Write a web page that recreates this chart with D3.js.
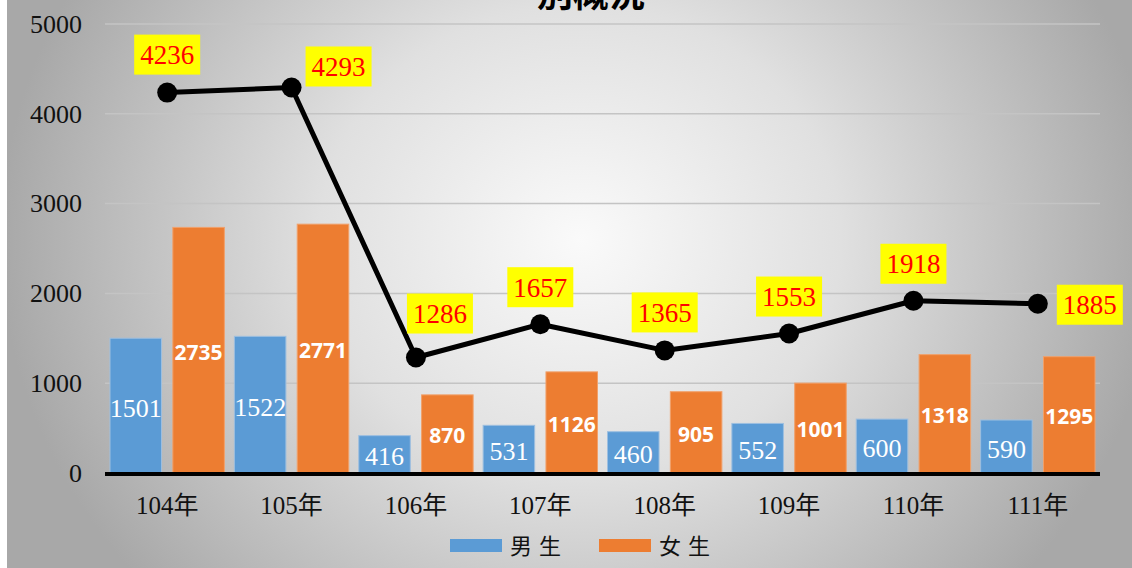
<!DOCTYPE html>
<html>
<head>
<meta charset="utf-8">
<script src="https://cdn.jsdelivr.net/npm/d3@7"></script>
<style>
  body { margin: 0; background: #fff; }
  svg { display: block; }
</style>
</head>
<body>
<svg id="chart" width="1132" height="568"></svg>
<script>
// chart data
var years   = ['104年', '105年', '106年', '107年', '108年', '109年', '110年', '111年'];
var boys    = [1501, 1522, 416, 531, 460, 552, 600, 590];
var girls   = [2735, 2771, 870, 1126, 905, 1001, 1318, 1295];
var totals  = [4236, 4293, 1286, 1657, 1365, 1553, 1918, 1885];
var yTicks  = [0, 1000, 2000, 3000, 4000, 5000];
var seriesNames = ['男生', '女生'];

// where each yellow total box sits relative to its point
var boxDx = [0, 47, 24, 0, 0, 0, 0, 52];
var boxDy = [-38, -21, -44, -37, -38, -37, -37, 1];

var blue = '#5b9bd5', orange = '#ed7d31';
var serif = '"Liberation Serif", "Noto Sans CJK TC", serif';

var svg = d3.select('#chart');
var W = 1132, H = 568;
// note: "top" is taken by window.top, so prefix these
var plotLeft = 105, plotRight = 1100, plotTop = 24, plotBottom = 473;

// background
var defs = svg.append('defs');
var grad = defs.append('radialGradient').attr('id', 'bg')
  .attr('gradientUnits', 'userSpaceOnUse')
  .attr('cx', 580).attr('cy', 240).attr('r', 580)
  .attr('gradientTransform', 'translate(580,240) scale(1,0.9) translate(-580,-240)');
grad.append('stop').attr('offset', 0).attr('stop-color', '#fafafa');
grad.append('stop').attr('offset', 0.45).attr('stop-color', '#e0e0e0');
grad.append('stop').attr('offset', 1).attr('stop-color', '#a8a8a8');
svg.append('rect').attr('x', 7).attr('y', 0).attr('width', W - 7).attr('height', H).attr('fill', 'url(#bg)');

// title (top is cut off in the original)
svg.append('text').attr('x', 591).attr('y', 7).attr('text-anchor', 'middle')
  .attr('font-family', '"Noto Sans CJK TC", sans-serif').attr('font-weight', 'bold')
  .attr('font-size', 36).attr('fill', '#000').text('別概況');

// scales
var x0 = d3.scaleBand().domain(years).range([plotLeft, plotRight]);
var x1 = d3.scaleBand().domain(seriesNames).range([5, x0.bandwidth() - 5]).paddingInner(0.18);
var y = d3.scaleLinear().domain([0, 5000]).range([plotBottom, plotTop]);

// gridlines
svg.append('g').selectAll('line').data(yTicks.filter(function (d) { return d > 0 }))
  .enter().append('line')
  .attr('x1', plotLeft).attr('x2', plotRight)
  .attr('y1', function (d) { return y(d) }).attr('y2', function (d) { return y(d) })
  .attr('stroke', '#c4c4c4').attr('stroke-width', 1.5);

// y axis labels
var yAxis = svg.append('g').attr('transform', 'translate(82,0)')
  .call(d3.axisLeft(y).tickValues(yTicks).tickFormat(d3.format('d')).tickSize(0).tickPadding(0));
yAxis.select('.domain').remove();
yAxis.selectAll('text').attr('font-family', serif).attr('font-size', 26).attr('fill', '#111')
  .attr('dy', '0.32em');

// bars
var groups = svg.append('g').selectAll('g').data(years).enter().append('g')
  .attr('transform', function (d) { return 'translate(' + x0(d) + ',0)' });

groups.append('rect')
  .attr('x', x1('男生')).attr('width', x1.bandwidth())
  .attr('y', function (d, i) { return y(boys[i]) })
  .attr('height', function (d, i) { return plotBottom - y(boys[i]) })
  .attr('fill', blue).attr('stroke', '#9dbfe0').attr('stroke-width', 1);

groups.append('rect')
  .attr('x', x1('女生')).attr('width', x1.bandwidth())
  .attr('y', function (d, i) { return y(girls[i]) })
  .attr('height', function (d, i) { return plotBottom - y(girls[i]) })
  .attr('fill', orange).attr('stroke', '#f1a06a').attr('stroke-width', 1);

groups.append('text')
  .attr('x', x1('男生') + x1.bandwidth() / 2)
  .attr('y', function (d, i) { return (y(boys[i]) + plotBottom) / 2 + 2 })
  .attr('text-anchor', 'middle').attr('dy', '0.35em')
  .attr('font-family', serif).attr('font-size', 26).attr('fill', '#fff')
  .text(function (d, i) { return boys[i] });

groups.append('text')
  .attr('x', x1('女生') + x1.bandwidth() / 2)
  .attr('y', function (d, i) { return (y(girls[i]) + plotBottom) / 2 + 2 })
  .attr('text-anchor', 'middle').attr('dy', '0.35em')
  .attr('font-family', '"Open Sans", sans-serif').attr('font-weight', 'bold')
  .attr('font-size', 21).attr('fill', '#fff')
  .text(function (d, i) { return girls[i] });

// x axis
svg.append('line').attr('x1', plotLeft).attr('x2', plotRight).attr('y1', plotBottom + 1).attr('y2', plotBottom + 1)
  .attr('stroke', '#000').attr('stroke-width', 4);

svg.append('g').selectAll('text').data(years).enter().append('text')
  .attr('x', function (d) { return x0(d) + x0.bandwidth() / 2 })
  .attr('y', 505).attr('dy', '0.35em').attr('text-anchor', 'middle')
  .attr('font-family', serif).attr('font-size', 25).attr('fill', '#111')
  .text(function (d) { return d });

// total line
var cx = function (i) { return x0(years[i]) + x0.bandwidth() / 2 };
var line = d3.line().x(function (d, i) { return cx(i) }).y(function (d) { return y(d) });
svg.append('path').datum(totals).attr('d', line)
  .attr('fill', 'none').attr('stroke', '#000').attr('stroke-width', 5).attr('stroke-linejoin', 'round');
svg.append('g').selectAll('circle').data(totals).enter().append('circle')
  .attr('cx', function (d, i) { return cx(i) }).attr('cy', function (d) { return y(d) })
  .attr('r', 10).attr('fill', '#000');

// total labels in yellow boxes
var boxes = svg.append('g').selectAll('g').data(totals).enter().append('g')
  .attr('transform', function (d, i) { return 'translate(' + (cx(i) + boxDx[i]) + ',' + (y(d) + boxDy[i]) + ')' });
boxes.append('rect').attr('x', -33).attr('y', -20).attr('width', 66).attr('height', 40).attr('fill', '#ffff00');
boxes.append('text').attr('text-anchor', 'middle').attr('dy', '0.35em')
  .attr('font-family', serif).attr('font-size', 27).attr('fill', '#ff0000')
  .text(function (d) { return d });

// legend
var legend = svg.append('g').selectAll('g').data(seriesNames).enter().append('g')
  .attr('transform', function (d, i) { return 'translate(' + (450 + i * 149) + ',546)' });
legend.append('rect').attr('x', 0).attr('y', -7).attr('width', 52).attr('height', 13)
  .attr('fill', function (d, i) { return i ? orange : blue });
legend.append('text').attr('x', 60).attr('dy', '0.35em')
  .attr('font-family', serif).attr('font-size', 22).attr('letter-spacing', 7).attr('fill', '#111')
  .text(function (d) { return d });
</script>
</body>
</html>
